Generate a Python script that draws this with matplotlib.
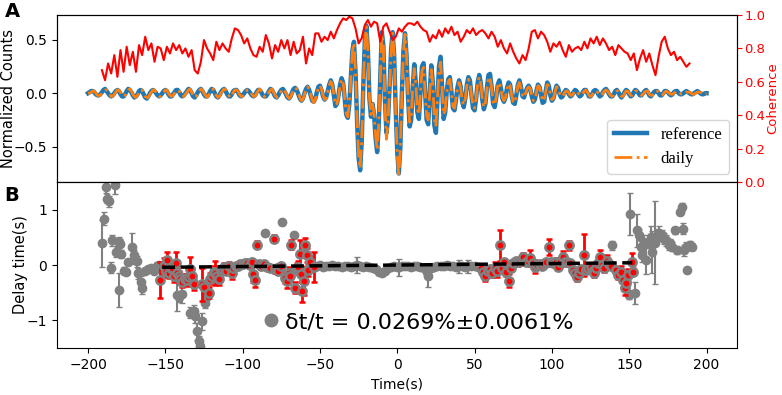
import numpy as np
import matplotlib
matplotlib.use('Agg')
import matplotlib.pyplot as plt
from matplotlib.lines import Line2D

# ---- panel A: cross-correlation waveforms, one sample per second (-200 .. 200 s)
wave_start = -200
reference = [
    0.00, 0.01, 0.02, 0.02, 0.01, -0.01, -0.02, -0.02,
    -0.01, 0.01, 0.03, 0.04, 0.02, 0.00, -0.02, -0.03,
    -0.02, 0.00, 0.02, 0.03, 0.02, -0.01, -0.03, -0.03,
    -0.01, 0.02, 0.04, 0.03, 0.01, -0.02, -0.04, -0.03,
    -0.01, 0.02, 0.03, 0.02, -0.01, -0.04, -0.05, -0.03,
    0.00, 0.02, 0.03, 0.02, 0.00, -0.02, -0.03, -0.02,
    0.00, 0.02, 0.03, 0.02, -0.01, -0.03, -0.03, -0.01,
    0.01, 0.03, 0.03, 0.01, -0.02, -0.03, -0.02, 0.00,
    0.02, 0.04, 0.03, 0.00, -0.03, -0.04, -0.02, 0.01,
    0.03, 0.04, 0.02, -0.01, -0.03, -0.03, -0.01, 0.02,
    0.04, 0.03, 0.00, -0.03, -0.04, -0.02, 0.01, 0.03,
    0.04, 0.02, -0.01, -0.03, -0.03, -0.01, 0.02, 0.03,
    0.03, 0.01, -0.02, -0.03, -0.02, 0.00, 0.02, 0.03,
    0.02, 0.00, -0.02, -0.03, -0.02, 0.01, 0.03, 0.03,
    0.01, -0.02, -0.03, -0.03, -0.01, 0.02, 0.04, 0.03,
    0.00, -0.03, -0.04, -0.02, 0.01, 0.03, 0.04, 0.02,
    -0.01, -0.04, -0.05, -0.03, 0.01, 0.04, 0.05, 0.03,
    -0.01, -0.05, -0.07, -0.05, 0.00, 0.04, 0.06, 0.03,
    -0.02, -0.07, -0.08, -0.05, 0.01, 0.06, 0.07, 0.03,
    -0.03, -0.06, -0.04, 0.02, 0.08, 0.12, 0.08, -0.02,
    -0.12, -0.10, -0.02, 0.08, 0.14, 0.10, -0.05, -0.20,
    -0.23, -0.10, 0.15, 0.40, 0.48, 0.20, -0.25, -0.60,
    -0.72, -0.45, 0.05, 0.48, 0.63, 0.40, -0.05, -0.22,
    -0.10, -0.20, -0.42, -0.55, -0.30, 0.15, 0.57, 0.45,
    -0.05, -0.37, -0.25, 0.05, 0.40, 0.57, 0.35, -0.15,
    -0.55, -0.75, -0.50, 0.00, 0.40, 0.56, 0.35, -0.05,
    -0.31, -0.25, 0.05, 0.27, 0.10, -0.18, -0.24, 0.00,
    0.25, 0.28, 0.02, -0.25, -0.29, 0.00, 0.26, 0.10,
    -0.30, -0.37, -0.05, 0.25, 0.34, 0.05, -0.24, -0.18,
    0.02, 0.13, 0.15, 0.02, -0.14, -0.16, -0.06, 0.06,
    0.12, 0.06, -0.08, -0.13, -0.05, 0.08, 0.15, 0.12,
    -0.02, -0.14, -0.16, -0.05, 0.10, 0.17, 0.10, -0.06,
    -0.15, -0.10, 0.05, 0.17, 0.18, 0.06, -0.10, -0.13,
    -0.04, 0.08, 0.12, 0.05, -0.05, -0.08, -0.04, 0.05,
    0.10, 0.08, -0.02, -0.09, -0.10, -0.02, 0.08, 0.12,
    0.06, -0.03, -0.04, 0.01, 0.05, 0.07, 0.04, -0.03,
    -0.08, -0.06, 0.02, 0.08, 0.06, -0.02, -0.09, -0.08,
    0.02, 0.10, 0.07, -0.02, -0.07, -0.05, 0.02, 0.07,
    0.05, -0.01, -0.04, -0.03, 0.01, 0.03, 0.02, -0.01,
    -0.03, -0.02, 0.01, 0.03, 0.02, -0.01, -0.03, -0.02,
    0.01, 0.03, 0.03, 0.00, -0.03, -0.03, -0.01, 0.02,
    0.03, 0.02, -0.01, -0.03, -0.02, 0.01, 0.03, 0.04,
    0.02, -0.01, -0.03, -0.03, -0.01, 0.02, 0.03, 0.01,
    -0.02, -0.04, -0.02, 0.01, 0.03, 0.02, -0.01, -0.03,
    -0.02, 0.01, 0.03, 0.02, 0.00, -0.02, -0.02, 0.00,
    0.02, 0.03, 0.01, -0.02, -0.03, -0.01, 0.01, 0.02,
    0.02, 0.00, -0.02, -0.02, 0.00, 0.02, 0.02, 0.01,
    -0.01, -0.02, -0.01, 0.01, 0.02, 0.02, 0.00, -0.01,
    -0.01, 0.00, 0.01, 0.02, 0.01, 0.00, -0.01, -0.01,
    0.00, 0.01, 0.02, 0.01, 0.00, -0.01, -0.01, 0.00,
    0.00]

daily = [
    0.00, 0.00, 0.01, 0.02, 0.02, 0.00, -0.02, -0.02,
    -0.02, 0.00, 0.02, 0.03, 0.03, 0.01, -0.01, -0.03,
    -0.03, -0.01, 0.01, 0.03, 0.03, 0.01, -0.02, -0.03,
    -0.02, 0.01, 0.03, 0.04, 0.02, -0.01, -0.03, -0.04,
    -0.02, 0.01, 0.03, 0.03, 0.00, -0.03, -0.04, -0.04,
    -0.01, 0.01, 0.03, 0.03, 0.01, -0.01, -0.03, -0.03,
    -0.01, 0.01, 0.03, 0.03, 0.00, -0.02, -0.03, -0.02,
    0.00, 0.02, 0.03, 0.02, -0.01, -0.03, -0.03, -0.01,
    0.01, 0.03, 0.04, 0.01, -0.02, -0.04, -0.03, 0.00,
    0.02, 0.04, 0.03, 0.00, -0.02, -0.04, -0.02, 0.01,
    0.03, 0.04, 0.01, -0.02, -0.04, -0.03, 0.00, 0.02,
    0.04, 0.03, 0.00, -0.02, -0.04, -0.02, 0.01, 0.03,
    0.03, 0.02, -0.01, -0.03, -0.03, -0.01, 0.01, 0.03,
    0.03, 0.01, -0.01, -0.03, -0.03, 0.00, 0.02, 0.04,
    0.02, -0.01, -0.03, -0.04, -0.02, 0.01, 0.03, 0.04,
    0.01, -0.02, -0.04, -0.03, 0.00, 0.02, 0.04, 0.03,
    0.00, -0.03, -0.05, -0.04, 0.00, 0.03, 0.05, 0.04,
    0.00, -0.04, -0.07, -0.06, -0.01, 0.03, 0.06, 0.04,
    -0.01, -0.06, -0.09, -0.06, 0.00, 0.05, 0.07, 0.04,
    -0.02, -0.06, -0.05, 0.01, 0.07, 0.11, 0.08, -0.01,
    -0.11, -0.10, -0.03, 0.07, 0.13, 0.10, -0.04, -0.19,
    -0.22, -0.10, 0.14, 0.39, 0.47, 0.20, -0.24, -0.59,
    -0.70, -0.45, 0.04, 0.46, 0.62, 0.40, -0.04, -0.20,
    -0.10, -0.19, -0.40, -0.53, -0.30, 0.14, 0.55, 0.45,
    -0.08, -0.43, -0.28, 0.03, 0.38, 0.56, 0.36, -0.16,
    -0.58, -0.78, -0.52, -0.01, 0.39, 0.55, 0.35, -0.05,
    -0.27, -0.22, 0.04, 0.23, 0.09, -0.15, -0.20, 0.00,
    0.21, 0.24, 0.02, -0.21, -0.25, 0.00, 0.22, 0.09,
    -0.25, -0.31, -0.05, 0.21, 0.29, 0.05, -0.20, -0.16,
    0.01, 0.11, 0.13, 0.02, -0.12, -0.14, -0.05, 0.05,
    0.10, 0.05, -0.07, -0.11, -0.05, 0.07, 0.13, 0.10,
    -0.02, -0.12, -0.14, -0.05, 0.08, 0.15, 0.09, -0.05,
    -0.13, -0.09, 0.04, 0.14, 0.15, 0.05, -0.08, -0.11,
    -0.04, 0.07, 0.10, 0.05, -0.04, -0.07, -0.04, 0.04,
    0.09, 0.07, -0.02, -0.08, -0.09, -0.02, 0.07, 0.10,
    0.05, -0.02, -0.04, 0.00, 0.04, 0.06, 0.04, -0.02,
    -0.07, -0.06, 0.01, 0.07, 0.06, -0.01, -0.07, -0.07,
    0.01, 0.08, 0.07, -0.01, -0.06, -0.05, 0.01, 0.06,
    0.05, 0.00, -0.03, -0.03, 0.00, 0.02, 0.02, 0.00,
    -0.02, -0.02, 0.00, 0.02, 0.02, 0.00, -0.02, -0.02,
    0.00, 0.02, 0.03, 0.01, -0.02, -0.03, -0.02, 0.01,
    0.02, 0.02, 0.00, -0.02, -0.02, 0.00, 0.02, 0.03,
    0.02, 0.00, -0.02, -0.03, -0.02, 0.01, 0.02, 0.02,
    -0.01, -0.03, -0.03, 0.00, 0.02, 0.02, 0.00, -0.02,
    -0.02, 0.00, 0.02, 0.02, 0.01, -0.01, -0.02, -0.01,
    0.01, 0.02, 0.02, -0.01, -0.02, -0.02, 0.00, 0.02,
    0.02, 0.01, -0.01, -0.02, -0.01, 0.01, 0.02, 0.01,
    0.00, -0.01, -0.01, 0.00, 0.01, 0.02, 0.01, 0.00,
    -0.01, -0.01, 0.00, 0.01, 0.01, 0.01, 0.00, -0.01,
    -0.01, 0.00, 0.01, 0.01, 0.01, 0.00, -0.01, -0.01,
    0.00]

# coherence, one value every 2 s starting at -191 s
coh_start, coh_step = -191, 2
coherence = [
    0.67, 0.61, 0.71, 0.65, 0.76, 0.63, 0.79, 0.66, 0.81, 0.70,
    0.78, 0.66, 0.82, 0.76, 0.87, 0.79, 0.83, 0.72, 0.81, 0.80,
    0.73, 0.81, 0.77, 0.83, 0.79, 0.82, 0.77, 0.80, 0.75, 0.79,
    0.67, 0.65, 0.72, 0.85, 0.80, 0.77, 0.73, 0.84, 0.79, 0.83,
    0.80, 0.78, 0.86, 0.92, 0.91, 0.88, 0.83, 0.86, 0.80, 0.76,
    0.75, 0.81, 0.78, 0.88, 0.83, 0.74, 0.82, 0.78, 0.85, 0.80,
    0.85, 0.76, 0.84, 0.77, 0.79, 0.87, 0.71, 0.80, 0.76, 0.89,
    0.89, 0.84, 0.87, 0.85, 0.90, 0.86, 0.91, 0.95, 0.98, 0.97,
    0.99, 0.98, 0.92, 0.83, 0.86, 0.94, 0.97, 0.93, 0.96, 0.95,
    0.84, 0.93, 0.95, 0.90, 0.85, 0.87, 0.92, 0.90, 0.93, 0.95,
    0.95, 0.94, 0.96, 0.93, 0.91, 0.90, 0.84, 0.88, 0.86, 0.91,
    0.87, 0.92, 0.89, 0.93, 0.88, 0.90, 0.84, 0.87, 0.91, 0.89,
    0.92, 0.88, 0.90, 0.91, 0.89, 0.86, 0.90, 0.87, 0.81, 0.85,
    0.80, 0.77, 0.83, 0.78, 0.74, 0.71, 0.76, 0.73, 0.80, 0.90,
    0.91, 0.86, 0.90, 0.88, 0.84, 0.78, 0.83, 0.81, 0.84, 0.79,
    0.75, 0.82, 0.78, 0.80, 0.81, 0.79, 0.84, 0.80, 0.86, 0.83,
    0.87, 0.82, 0.86, 0.83, 0.79, 0.81, 0.76, 0.82, 0.80, 0.78,
    0.77, 0.73, 0.77, 0.67, 0.74, 0.79, 0.72, 0.77, 0.70, 0.64,
    0.75, 0.84, 0.87, 0.80, 0.76, 0.78, 0.73, 0.75, 0.72, 0.69,
    0.71]

# ---- panel B: delay time measurements
# points outside the selected windows (gray)
gray_t = [-191, -189.9, -188.2, -187.7, -186.6, -185, -184.5, -182.3, -181.7, -180.2,
          -180, -179, -178.4, -176.5, -175.5, -174, -171.5, -170.5, -169.5, -168.5,
          -167.4, -165.6, -164.8, -163, -161, -159, -157, -155.5, -154,
          -142.5, -141.4, -139.3, -133.8, -131.6, -130.5, -129.5, -128.4, -127.4, -126.3,
          -124.1, -123, -85.3, -74.5, -67,
          -52, -50, -48, -46, -44, -42, -40, -38, -36, -34, -32, -30, -28, -26, -24,
          -22, -20, -18, -16, -14, -12, -10, -8, -6, -4, -2, 0, 1,
          3, 5, 7, 9, 11, 13, 15, 17, 19, 20,
          22, 24, 26, 28, 30, 32, 34, 36, 38, 40, 42, 44, 46, 48, 50, 52,
          139, 149.7, 150.8, 154, 155, 156.5, 157.5, 158.6, 159.5, 161,
          162.5, 163.8, 165, 166, 167, 168, 169.3, 170.5, 171.5, 172.5,
          174, 175.5, 176.7, 177.8, 179.9, 181, 183, 184, 185, 185.5,
          186.5, 187.5, 189.6, 190.5]
gray_dt = [0.39, 0.84, 1.41, 1.20, 1.15, -0.05, 0.45, 1.44, 0.24, -0.45,
           0.42, 0.38, 0.20, -0.10, -0.12, 0.05, 0.33, 0.18, 0.10, 0.07,
           -0.15, -0.30, -0.42, -0.10, -0.08, -0.05, -0.10, -0.02, 0.00,
           -0.54, -0.57, -0.53, -0.86, -0.83, -0.92, -1.20, -1.38, -1.47, -1.02,
           -0.68, -0.56, 0.58, 0.77, 0.55,
           -0.02, 0.00, -0.03, -0.01, -0.02, 0.00, -0.02, -0.01, -0.03, -0.02, -0.01, -0.03, -0.02, 0.00, -0.02,
           -0.03, -0.02, -0.04, -0.05, -0.08, -0.12, -0.14, -0.10, -0.05, -0.03, -0.02, -0.03, -0.04,
           -0.02, -0.01, -0.02, -0.03, -0.02, -0.01, -0.03, -0.06, -0.12, -0.20,
           -0.06, -0.03, -0.02, -0.01, -0.02, 0.00, -0.02, -0.01, -0.03, -0.02, -0.01, -0.03, -0.02, -0.01, -0.02, -0.03,
           0.36, -0.54, 0.93, -0.51, 0.63, 0.55, 0.33, 0.18, 0.42, 0.09,
           0.39, 0.51, 0.24, 0.45, 0.40, 0.55, 0.58, 0.52, 0.55, 0.48,
           0.45, 0.36, 0.39, 0.33, 0.63, 0.27, 0.96, 1.05, 0.66, 0.27,
           0.33, -0.09, 0.36, 0.33]
gray_err = [0.42, 0.12, 0.10, 0.08, 0.10, 0.10, 0.10, 0.15, 0.10, 0.30,
            0.08, 0.10, 0.08, 0.06, 0.05, 0.05, 0.25, 0.10, 0.08, 0.10,
            0.10, 0.10, 0.10, 0.05, 0.06, 0.05, 0.05, 0.08, 0.05,
            0.30, 0.10, 0.15, 0.10, 0.10, 0.12, 0.15, 0.10, 0.10, 0.15,
            0.10, 0.08, 0.05, 0.04, 0.05,
            0.03, 0.03, 0.03, 0.04, 0.03, 0.03, 0.05, 0.03, 0.03, 0.03, 0.03, 0.04, 0.03, 0.14, 0.03,
            0.03, 0.03, 0.03, 0.04, 0.04, 0.05, 0.04, 0.04, 0.03, 0.03, 0.03, 0.03, 0.15,
            0.03, 0.03, 0.03, 0.03, 0.03, 0.03, 0.03, 0.04, 0.05, 0.20,
            0.04, 0.03, 0.03, 0.03, 0.03, 0.03, 0.03, 0.03, 0.03, 0.12, 0.03, 0.03, 0.12, 0.03, 0.03, 0.03,
            0.08, 0.08, 0.38, 0.20, 0.30, 0.10, 0.10, 0.12, 0.12, 0.25,
            0.08, 0.20, 0.38, 0.10, 0.75, 0.10, 0.12, 0.08, 0.08, 0.10,
            0.10, 0.08, 0.08, 0.08, 0.06, 0.07, 0.05, 0.08, 0.10, 0.10,
            0.08, 0.05, 0.08, 0.06]

# points used in the fit (red)
red_t = [-153.2, -151, -149.8, -148.8, -147.7, -146.5, -145.6, -144.5, -143.4, -142.3,
         -141, -140.2, -139, -137.5, -135.9, -134.8, -133.8, -132.7, -131.5, -126.3,
         -125.2, -122, -120.9, -119.8, -118.7, -117.6, -116.5, -115.4, -114.3, -113.3,
         -112, -110.5, -109, -107, -106, -104.5, -103, -101.5, -100, -98.5,
         -97, -95.5, -94, -93.2, -92, -90.7, -89.5, -88, -86.5, -84,
         -82.5, -80, -79, -78, -77, -75.5, -72.9, -71.5, -70, -69.1,
         -68.4, -66, -65, -63.9, -63, -62.3, -61.6, -60.5, -59.4, -58.3,
         -57.5, -56.5, -54,
         54, 55.5, 57, 58.5, 60, 61.5, 63, 64.5, 66.7, 68,
         69, 70.5, 72, 73.5, 75, 76.5, 78, 79.5, 81, 81.6,
         83, 84.5, 86, 87.5, 89, 90.5, 92, 93.5, 95, 96.5,
         98, 99.5, 101, 102.5, 104, 105.5, 107, 108.5, 110, 110.9,
         112, 113.5, 115, 116.3, 117.5, 119, 120.6, 122, 123.5, 125,
         126.5, 127.5, 128.5, 130, 131.3, 132.5, 134, 135.5, 137, 138.5,
         141.6, 143, 144.5, 145.9, 147, 148.2, 149, 151.5, 152.6]
red_dt = [-0.27, -0.02, -0.10, 0.10, -0.14, -0.05, -0.06, -0.20, 0.03, -0.14,
          -0.20, -0.26, -0.30, -0.25, -0.27, -0.22, -0.08, -0.20, -0.35, -0.35,
          -0.40, -0.50, -0.25, -0.20, -0.12, -0.14, -0.20, -0.26, -0.10, -0.07,
          -0.04, -0.10, -0.02, -0.14, -0.05, -0.02, -0.01, 0.02, 0.02, 0.04,
          0.03, 0.00, 0.05, -0.16, -0.27, 0.37, 0.02, -0.02, 0.01, -0.03,
          -0.05, 0.48, -0.08, -0.06, -0.11, -0.02, -0.23, -0.29, -0.14, -0.20,
          0.37, -0.41, -0.05, -0.04, 0.20, -0.16, -0.47, -0.29, 0.36, 0.18,
          -0.09, 0.06, -0.03,
          -0.05, -0.12, -0.20, -0.10, -0.08, -0.15, -0.05, -0.10, 0.36, -0.05,
          0.05, -0.12, -0.28, -0.05, 0.03, 0.07, 0.05, 0.07, 0.10, 0.15,
          0.05, 0.08, 0.13, 0.03, -0.03, 0.00, 0.02, -0.02, 0.02, 0.05,
          0.33, 0.05, 0.03, 0.06, -0.03, 0.06, 0.15, 0.05, 0.06, 0.36,
          0.03, -0.09, -0.15, -0.21, -0.15, -0.08, 0.18, -0.09, -0.06, -0.03,
          -0.10, -0.15, -0.05, 0.03, 0.15, 0.00, -0.06, 0.08, 0.02, -0.02,
          -0.09, -0.18, -0.12, -0.27, -0.42, -0.33, -0.18, 0.06, -0.12]
red_err = [0.33, 0.15, 0.12, 0.14, 0.10, 0.08, 0.10, 0.10, 0.20, 0.10,
           0.10, 0.08, 0.10, 0.08, 0.10, 0.10, 0.22, 0.15, 0.10, 0.30,
           0.10, 0.10, 0.10, 0.08, 0.10, 0.22, 0.08, 0.10, 0.06, 0.06,
           0.08, 0.06, 0.08, 0.12, 0.04, 0.04, 0.03, 0.04, 0.04, 0.04,
           0.03, 0.05, 0.04, 0.14, 0.12, 0.07, 0.05, 0.05, 0.04, 0.05,
           0.05, 0.07, 0.06, 0.05, 0.06, 0.05, 0.10, 0.12, 0.10, 0.08,
           0.08, 0.10, 0.08, 0.12, 0.26, 0.15, 0.20, 0.25, 0.13, 0.12,
           0.10, 0.10, 0.27,
           0.06, 0.07, 0.08, 0.06, 0.05, 0.07, 0.10, 0.12, 0.28, 0.08,
           0.06, 0.08, 0.12, 0.06, 0.05, 0.05, 0.06, 0.06, 0.10, 0.06,
           0.05, 0.06, 0.15, 0.05, 0.12, 0.05, 0.04, 0.04, 0.05, 0.06,
           0.15, 0.06, 0.05, 0.06, 0.05, 0.06, 0.10, 0.06, 0.05, 0.08,
           0.05, 0.06, 0.06, 0.08, 0.06, 0.06, 0.38, 0.06, 0.05, 0.06,
           0.06, 0.06, 0.06, 0.05, 0.12, 0.05, 0.06, 0.10, 0.06, 0.05,
           0.06, 0.08, 0.10, 0.12, 0.12, 0.10, 0.10, 0.15, 0.06]

fit_range = [-152, 152]
rate_pct = 0.0269      # dt/t in percent
rate_err_pct = 0.0061

# ---------------------------------------------------------------
t_wave = wave_start + np.arange(len(reference))
t_coh = coh_start + coh_step * np.arange(len(coherence))

fig = plt.figure(figsize=(7.82, 3.95), dpi=100)
ax1 = fig.add_axes([0.073, 0.539, 0.870, 0.423])
ax2 = fig.add_axes([0.073, 0.119, 0.870, 0.420], sharex=ax1)

ax1.plot(t_wave, reference, color='#1f77b4', lw=3.2, label='reference')
ax1.plot(t_wave, daily, color='#ff7f0e', lw=2.0, ls='-.', label='daily')
ax1.set_ylim(-0.83, 0.73)
ax1.set_yticks([-0.5, 0.0, 0.5])
ax1.set_ylabel('Normalized Counts', fontsize=10.5)
ax1.yaxis.set_label_coords(-0.06, 0.5)
ax1.tick_params(labelbottom=False, labelsize=10)
ax1.legend(loc='lower right', prop={'family': 'Liberation Serif', 'size': 12})

axc = ax1.twinx()
axc.plot(t_coh, coherence, color='red', lw=1.5)
axc.set_ylim(0, 1)
axc.set_yticks([0.0, 0.2, 0.4, 0.6, 0.8, 1.0])
axc.tick_params(axis='y', colors='red', labelsize=9.5, pad=1.5)
axc.set_ylabel('Coherence', color='red', fontsize=9.5)
axc.yaxis.set_label_coords(1.043, 0.5)

ax2.errorbar(gray_t, gray_dt, yerr=gray_err, fmt='o', color='gray', ms=6,
             elinewidth=1.5, capsize=2.5, zorder=2)
ax2.errorbar(red_t, red_dt, yerr=red_err, fmt='o', color='red', mfc='red', mec='gray',
             mew=1.8, ms=6, elinewidth=2, capsize=2, capthick=1.8, zorder=3)
fit_x = np.array(fit_range)
ax2.plot(fit_x, rate_pct / 100 * fit_x, 'k--', lw=2.5, zorder=4)

ax2.set_xlim(-220, 220)
ax2.set_xticks(np.arange(-200, 201, 50))
ax2.set_ylim(-1.5, 1.5)
ax2.set_yticks([-1, 0, 1])
ax2.set_xlabel('Time(s)', fontsize=10)
ax2.set_ylabel('Delay time(s)', fontsize=10.5)
ax2.yaxis.set_label_coords(-0.043, 0.5)
ax2.tick_params(labelsize=10)

label = 'δt/t = {:.4f}%±{:.4f}%'.format(rate_pct, rate_err_pct)
proxy = Line2D([], [], ls='', marker='o', color='gray', ms=9)
ax2.legend([proxy], [label], loc='center', bbox_to_anchor=(0.532, 0.156),
           frameon=False, fontsize=16, handlelength=0.6, handletextpad=0.3)

fig.text(0.006, 0.995, 'A', fontsize=14, fontweight='bold', va='top')
fig.text(0.006, 0.53, 'B', fontsize=14, fontweight='bold', va='top')

fig.savefig('out.png', dpi=100)
